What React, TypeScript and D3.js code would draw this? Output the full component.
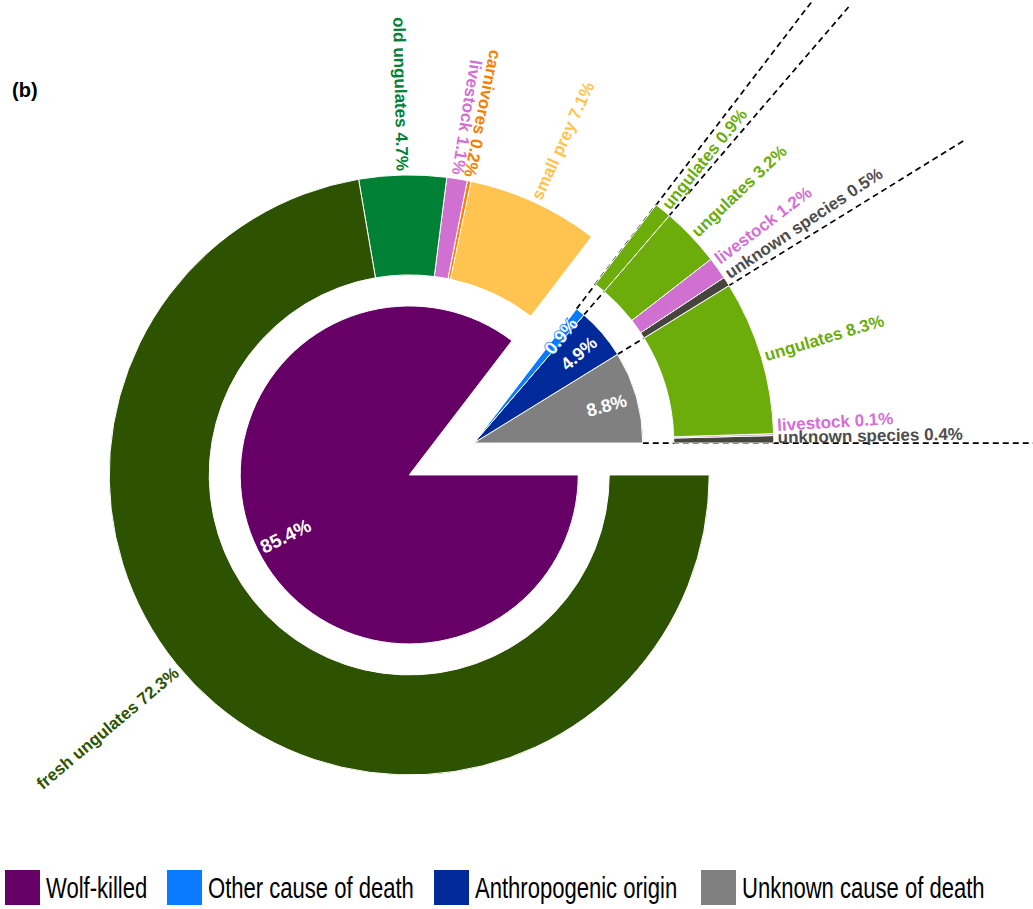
import React from 'react';
import * as d3 from 'd3';

// Inner ring: cause of death (counter-clockwise from 3 o'clock)
const causes = ['Unknown cause of death', 'Anthropogenic origin', 'Other cause of death', 'Wolf-killed'];
const causeValues = [8.8, 4.9, 0.9, 85.4];
const causeColors = ['#808080', '#00299a', '#0a7bff', '#660066'];
const legendOrder = ['Wolf-killed', 'Other cause of death', 'Anthropogenic origin', 'Unknown cause of death'];

// Outer ring: prey type, same counter-clockwise order
const preyLabels = ['unknown species', 'livestock', 'ungulates', 'unknown species', 'livestock', 'ungulates', 'ungulates', 'small prey', 'carnivores', 'livestock', 'old ungulates', 'fresh ungulates'];
const preyValues = [0.4, 0.1, 8.3, 0.5, 1.2, 3.2, 0.9, 7.1, 0.2, 1.1, 4.7, 72.3];
const preyParent = [0, 0, 0, 1, 1, 1, 2, 3, 3, 3, 3, 3];
const preyColors = ['#45453e', '#d070d0', '#6cad0c', '#45453e', '#d070d0', '#6cad0c', '#6cad0c', '#ffc34f', '#ff8000', '#d070d0', '#008136', '#2e5300'];
const preyTextColors = ['#4d4d4d', '#d46fd4', '#6cad0c', '#4d4d4d', '#d46fd4', '#6cad0c', '#6cad0c', '#ffc34f', '#f57f00', '#d46fd4', '#008136', '#2e5300'];
// label angles (degrees) moved to avoid overlaps, as in the source figure
const labelAngleOverride: Record<number, number> = { 0: 1.1, 1: 3.4, 3: 33.7, 4: 37.0, 11: 220 };

const FONT = '"Liberation Sans", Arial, Helvetica, sans-serif';
const W = 1033, H = 909;
const C = { x: 441.5, y: 459 };
const EXPLODE = 36;
const R_PIE = 169, R_IN = 200, R_OUT = 300, R_DASH = 575;

const deg = (r: number) => (r * 180) / Math.PI;

export default function App() {
  const pie = d3.pie<number>().sort(null).value((d) => d).startAngle(Math.PI / 2).endAngle(Math.PI / 2 - 2 * Math.PI);
  const inner = pie(causeValues);
  const outer = pie(preyValues);

  // group: 0 = non wolf (indices 0..2), 1 = wolf (index 3)
  const groupOf = (ci: number) => (ci === 3 ? 1 : 0);
  const groupRange = [0, 1].map((g) => {
    const arcs = inner.filter((_, i) => groupOf(i) === g);
    const a0 = Math.max(...arcs.map((a) => a.startAngle));
    const a1 = Math.min(...arcs.map((a) => a.endAngle));
    return [a0, a1];
  });
  const groupCenter = groupRange.map(([a0, a1]) => {
    const a = (a0 + a1) / 2; // d3 angle (clockwise from north)
    return { x: C.x + EXPLODE * Math.sin(a), y: C.y - EXPLODE * Math.cos(a) };
  });

  const arcPie = d3.arc<d3.PieArcDatum<number>>().innerRadius(0).outerRadius(R_PIE);
  const arcRing = d3.arc<d3.PieArcDatum<number>>().innerRadius(R_IN).outerRadius(R_OUT);

  // theta = math angle (ccw from east) in degrees, in [0,360)
  const thetaOf = (a: number) => {
    let t = 90 - deg(a);
    t = ((t % 360) + 360) % 360;
    return t;
  };

  // dashed boundary lines of non-wolf slices
  const nwc = groupCenter[0];
  const boundaryAngles: number[] = [];
  inner.forEach((a, i) => {
    if (groupOf(i) === 0) {
      boundaryAngles.push(a.startAngle, a.endAngle);
    }
  });
  const uniqB = Array.from(new Set(boundaryAngles.map((b) => b.toFixed(6)))).map(Number);

  const legendX = [5, 167, 434, 701];

  return (
    <svg width={W} height={H} style={{ position: 'absolute', left: 0, top: 0, background: '#fff' }} fontFamily={FONT}>
      <text x={12} y={97} fontSize={20} fontWeight="bold" fill="#000">(b)</text>

      {uniqB.map((a, i) => {
        const t = (thetaOf(a) * Math.PI) / 180;
        return (
          <line key={'d' + i}
            x1={nwc.x + R_PIE * Math.cos(t)} y1={nwc.y - R_PIE * Math.sin(t)}
            x2={nwc.x + R_DASH * Math.cos(t)} y2={nwc.y - R_DASH * Math.sin(t)}
            stroke="#000" strokeWidth={1.7} strokeDasharray="6,4" />
        );
      })}

      {inner.map((a, i) => {
        const g = groupCenter[groupOf(i)];
        return (
          <path key={'p' + i} d={arcPie(a) || ''} transform={`translate(${g.x},${g.y})`}
            fill={causeColors[i]} stroke="#fff" strokeWidth={1} />
        );
      })}

      {outer.map((a, i) => {
        const g = groupCenter[groupOf(preyParent[i])];
        return (
          <path key={'o' + i} d={arcRing(a) || ''} transform={`translate(${g.x},${g.y})`}
            fill={preyColors[i]} stroke="#fff" strokeWidth={1} />
        );
      })}

      {inner.map((a, i) => {
        const g = groupCenter[groupOf(i)];
        const th = thetaOf((a.startAngle + a.endAngle) / 2);
        const t = (th * Math.PI) / 180;
        const r = 138;
        const x = g.x + r * Math.cos(t), y = g.y - r * Math.sin(t);
        const rot = th > 90 && th < 270 ? 180 - th : -th;
        return (
          <text key={'il' + i} x={0} y={0} dy="0.35em" transform={`translate(${x},${y}) rotate(${rot})`}
            textAnchor="middle" fontSize={i === 3 ? 19 : 18} fontWeight="bold" fill="#fff"
            stroke={causeColors[i]} strokeWidth={1.5} paintOrder="stroke">
            {causeValues[i].toFixed(1) + '%'}
          </text>
        );
      })}

      {outer.map((a, i) => {
        const g = groupCenter[groupOf(preyParent[i])];
        const th = labelAngleOverride[i] ?? thetaOf((a.startAngle + a.endAngle) / 2);
        const t = (th * Math.PI) / 180;
        const r = 304;
        const x = g.x + r * Math.cos(t), y = g.y - r * Math.sin(t);
        const flip = th > 70 && th < 290;
        const rot = flip ? 180 - th : -th;
        return (
          <text key={'ol' + i} x={0} y={0} dy="0.35em" transform={`translate(${x},${y}) rotate(${rot})`}
            textAnchor={flip ? 'end' : 'start'} fontSize={17} fontWeight="bold" fill={preyTextColors[i]}>
            {`${preyLabels[i]} ${preyValues[i].toFixed(1)}%`}
          </text>
        );
      })}

      {legendOrder.map((name, i) => {
        const ci = causes.indexOf(name);
        const x = legendX[i];
        return (
          <g key={'lg' + i}>
            <rect x={x} y={870} width={35} height={35} fill={causeColors[ci]} />
            <text transform={`translate(${x + 41},898) scale(0.735,1)`} fontSize={30} fill="#000">{name}</text>
          </g>
        );
      })}
    </svg>
  );
}
